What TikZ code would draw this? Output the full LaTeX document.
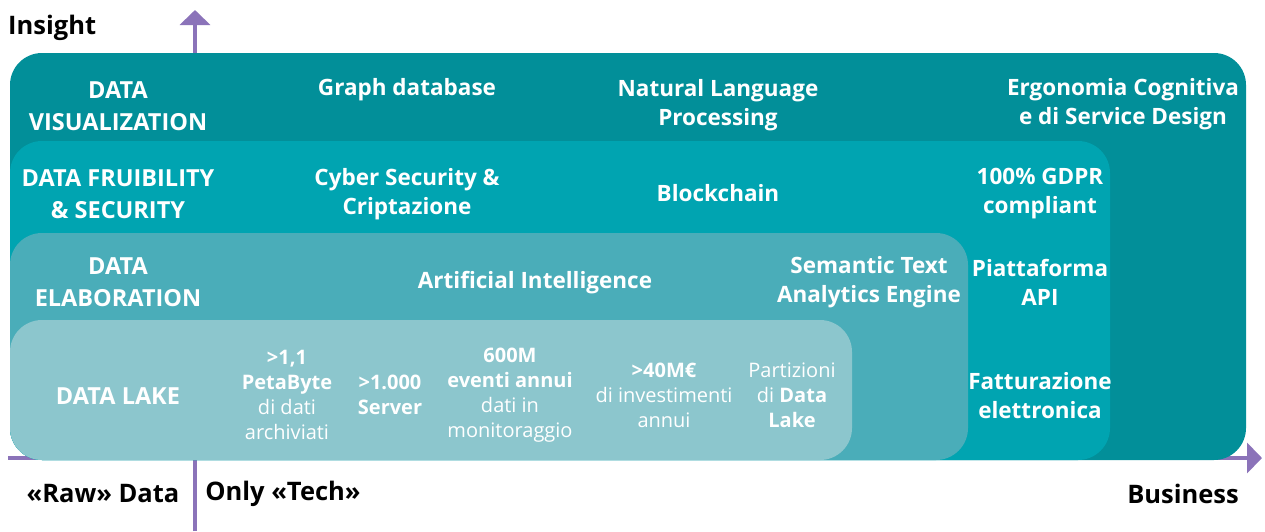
\documentclass[tikz,border=0pt]{standalone}
\usepackage{fontspec}
\setmainfont{Open Sans}
\usetikzlibrary{arrows.meta}
\definecolor{vizcol}{HTML}{028F99}
\definecolor{fruicol}{HTML}{00A4B1}
\definecolor{elabcol}{HTML}{4AADB9}
\definecolor{lakecol}{HTML}{8CC6CD}
\definecolor{axiscol}{HTML}{8B73B9}
\tikzset{
  layer/.style={rounded corners=32pt},
  head/.style={text=white, font=\bfseries\fontsize{23.5}{32}\selectfont, align=center},
  item/.style={text=white, font=\bfseries\fontsize{22.5}{29}\selectfont, align=center},
  fact/.style={text=white, font=\fontsize{20}{25}\selectfont, align=center},
  axislabel/.style={text=black, font=\bfseries\fontsize{25.5}{28}\selectfont},
  axis/.style={axiscol, line width=4pt, -{Triangle[length=15pt,width=30pt]}}
}
\begin{document}
\begin{tikzpicture}[x=1pt,y=-1pt]
			\useasboundingbox (0,0) rectangle (1265,531);
			% axes
			\coordinate (xstart) at (8,458);
			\coordinate (xend) at (1262,458);
			\coordinate (ystart) at (195,531);
			\coordinate (yend) at (195,10);
			\draw[axis] (xstart) -- (xend);
			\draw[axis] (ystart) -- (yend);
			% layers
			\fill[vizcol, layer] (10,53) rectangle (1246,460);
			\fill[fruicol, layer] (10,141) rectangle (1110,460);
			\fill[elabcol, layer] (10,233) rectangle (968,460);
			\fill[lakecol, layer] (10,320) rectangle (852,460);
			% axis labels
			\node[axislabel, anchor=west, inner sep=0pt] (insight) at (8,28) {Insight};
			\node[axislabel] (raw) at (103,494) {«Raw» Data};
			\node[axislabel] (tech) at (283,494) {Only «Tech»};
			\node[axislabel] (business) at (1183,494) {Business};
			% data visualization
			\node[head] (viz) at (118,106) {DATA\\VISUALIZATION};
			\node[item] (graph) at (407,90) {Graph database};
			\node[item] (nlp) at (718,105) {Natural Language\\Processing};
			\node[item] (ergo) at (1123,104) {Ergonomia Cognitiva\\e di Service Design};
			% data fruibility
			\node[head] (fru) at (118,194) {DATA FRUIBILITY\\\& SECURITY};
			\node[item] (cyber) at (407,194) {Cyber Security \&\\Criptazione};
			\node[item] (block) at (718,193) {Blockchain};
			\node[item] (gdpr) at (1040,194) {100\% GDPR\\compliant};
			% data elaboration
			\node[head] (elab) at (118,282) {DATA\\ELABORATION};
			\node[item] (ai) at (535,283) {Artificial Intelligence};
			\node[item] (semantic) at (869,282) {Semantic Text\\Analytics Engine};
			\node[item] (api) at (1040,282) {Piattaforma\\API};
			\node[item] (fattura) at (1040,396) {Fatturazione\\elettronica};
			% data lake
			\node[head] (lake) at (118,396) {DATA LAKE};
			\node[fact] (peta) at (287,395) {\textbf{>1,1}\\\textbf{PetaByte}\\di dati\\archiviati};
			\node[fact] (server) at (390,395) {\textbf{>1.000}\\\textbf{Server}};
			\node[fact] (eventi) at (510,395) {\textbf{600M}\\\textbf{eventi annui}\\dati in\\monitoraggio};
			\node[fact] (invest) at (664,395) {\textbf{>40M€}\\di investimenti\\annui};
			\node[fact] (part) at (792,395) {Partizioni\\di \textbf{Data}\\\textbf{Lake}};
\end{tikzpicture}
\end{document}
